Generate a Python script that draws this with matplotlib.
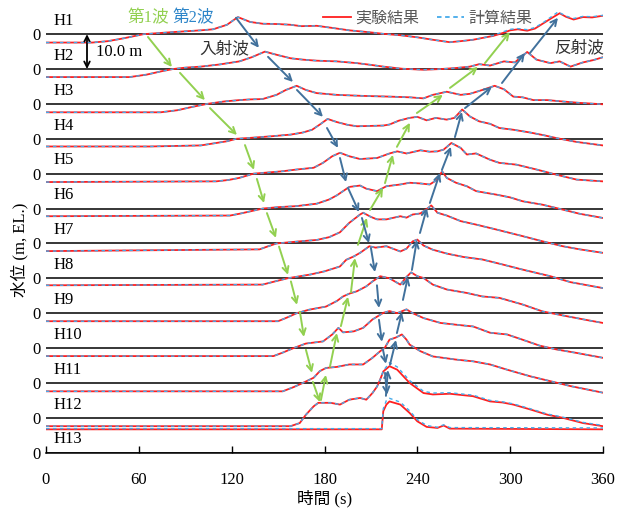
import numpy as np
import matplotlib.pyplot as plt
from matplotlib.lines import Line2D

plt.rcParams['font.family'] = ['Liberation Serif', 'Noto Sans CJK JP']
plt.rcParams['axes.unicode_minus'] = False

# gauge names, top to bottom
gauges = ['H1', 'H2', 'H3', 'H4', 'H5', 'H6', 'H7', 'H8', 'H9', 'H10', 'H11', 'H12', 'H13']
spacing = 10.0   # m between stacked records

H1_t = [0, 30, 40, 50, 63, 82, 100, 108, 117, 124, 132, 140, 150, 158, 165, 175, 185, 196, 208, 218,
        229, 240, 250, 261, 268, 276, 283, 289, 295, 300, 305, 311, 316, 321, 326, 332, 336, 341, 347, 353, 360]
H1_h = [-2.4, -2.4, -2.0, -1.2, 0.0, 0.6, 1.1, 1.4, 2.7, 4.9, 3.5, 3.0, 2.9, 2.7, 2.3, 2.4, 1.8, 1.1, 0.6, 0.1,
        -0.3, -0.9, -1.6, -2.3, -2.0, -1.6, -1.0, -0.5, 0.3, 1.1, 1.4, 1.0, 1.6, 3.0, 4.4, 6.0, 5.0, 4.2, 4.9, 4.8, 5.3]
H2_t = [0, 54, 65, 75, 82, 90, 100, 112, 125, 133, 141.5, 149, 158, 166, 175, 188, 201, 210, 218, 230,
        244, 255, 265, 274, 280, 287, 296, 303, 311, 317, 326, 332, 339, 347, 354, 360]
H2_h = [-2.3, -2.3, -1.6, -0.6, 0.0, 0.4, 0.7, 1.3, 2.2, 3.4, 5.0, 4.1, 3.1, 2.7, 2.4, 2.2, 1.7, 1.2, 0.7, 0.1,
        -0.2, 0.0, 0.3, 0.7, 1.4, 1.0, 2.2, 1.9, 4.9, 2.7, 1.7, 2.2, 0.7, 1.9, 2.6, 3.4]
H3_t = [0, 74, 85, 95, 104, 115, 125, 132, 140, 149, 155, 162, 168, 175, 188, 205, 222, 235, 244, 250,
        259, 268, 274, 282, 290, 296, 302, 308, 315, 324, 334, 345, 360]
H3_h = [-2.4, -2.4, -1.8, -0.8, 0.0, 0.7, 1.1, 1.3, 1.4, 2.6, 4.0, 5.2, 4.0, 3.1, 2.6, 2.3, 2.1, 1.9, 1.6, 2.6,
        3.5, 2.6, 2.9, 4.0, 5.2, 4.2, 2.1, 1.9, 1.1, 1.1, 0.7, 0.3, -0.1]
H4_t = [0, 67, 100, 110, 117, 123, 133, 145, 158, 166, 172, 177, 182, 188, 195, 201, 210, 218, 222, 228,
        235, 240, 246, 252, 259, 264, 269, 274, 280, 287, 293, 302, 313, 322, 330, 343, 360]
H4_h = [-2.2, -2.2, -1.9, -1.2, -0.7, 0.0, 0.3, 0.7, 1.2, 1.8, 2.6, 4.1, 5.7, 4.8, 4.0, 3.6, 3.7, 3.8, 4.1, 5.2,
        6.0, 6.3, 5.3, 6.0, 5.5, 6.0, 8.4, 6.4, 5.0, 4.3, 3.1, 2.6, 1.8, 1.0, 0.2, -0.9, -1.9]
H5_t = [0, 110, 118, 125, 134, 145, 153, 162, 173, 179, 185, 190, 196, 203, 214, 222, 227, 233, 242, 248,
        253, 257, 262, 268, 272, 278, 287, 293, 304, 317, 330, 343, 360]
H5_h = [-2.4, -2.2, -1.8, -1.2, 0.0, 0.4, 0.7, 1.2, 1.7, 3.1, 5.0, 6.0, 5.0, 4.2, 4.5, 5.8, 6.4, 5.8, 6.7, 6.3,
        6.4, 6.9, 8.8, 7.4, 5.5, 5.8, 4.0, 3.1, 2.6, 1.2, -0.3, -1.7, -2.2]
H6_t = [0, 119, 126, 132, 140, 150, 162, 175, 183, 188, 192, 196, 203, 207, 214, 220, 229, 235, 242, 248,
        253, 256, 259, 265, 272, 278, 291, 300, 308, 321, 334, 345, 360]
H6_h = [-2.2, -2.0, -1.4, -0.8, 0.0, 0.4, 0.7, 1.4, 2.6, 3.8, 5.0, 6.2, 6.6, 5.7, 5.0, 6.4, 6.9, 7.4, 7.2, 6.9,
        8.3, 10.7, 8.8, 7.4, 6.4, 5.0, 4.0, 3.2, 2.1, 1.1, -0.3, -1.5, -2.7]
H7_t = [0, 138, 143, 149, 164, 175, 183, 190, 196, 203, 205, 210, 214, 220, 229, 233, 237, 242, 247, 249,
        253, 259, 268, 278, 291, 308, 321, 334, 345, 360]
H7_h = [-2.2, -1.7, -0.9, 0.0, 0.6, 1.0, 1.8, 3.2, 5.9, 8.3, 8.8, 7.6, 6.9, 6.9, 7.8, 7.4, 8.3, 8.6, 10.2, 10.9,
        8.8, 8.0, 6.4, 5.4, 4.0, 2.1, 0.6, -0.8, -1.7, -2.7]
H8_t = [0, 140, 147, 156, 171, 180, 190, 194, 199, 203, 209, 213, 220, 229, 233, 237, 240, 244, 250, 259,
        270, 282, 293, 308, 326, 339, 350, 360]
H8_h = [-2.0, -1.8, -1.0, 0.0, 1.1, 2.0, 3.4, 5.3, 6.3, 7.3, 9.2, 8.8, 9.2, 7.7, 8.5, 10.6, 11.1, 9.4, 8.2, 7.1,
        6.1, 5.4, 4.2, 2.5, 0.6, -1.1, -2.0, -2.8]
H9_t = [0, 150, 156, 162, 170, 181, 188, 192, 196, 201, 207, 211, 216, 222, 229, 233, 236, 240, 244, 250,
        259, 272, 282, 293, 308, 321, 337, 350, 360]
H9_h = [-2.3, -2.3, -1.2, 0.0, 1.0, 1.9, 3.5, 4.8, 5.6, 6.3, 7.7, 9.1, 10.6, 10.0, 8.2, 10.4, 11.7, 10.6, 10.1, 8.2,
        6.8, 5.8, 4.8, 4.4, 2.5, 0.5, -0.9, -2.0, -2.8]
H10_t = [0, 147, 153, 160, 168, 179, 185, 189, 192, 199, 205, 211, 218, 222, 227, 233, 237, 244, 255, 265,
         276, 287, 298, 308, 319, 330, 343, 360]
H10_h = [-2.3, -2.3, -1.3, 0.0, 1.3, 1.9, 3.9, 5.8, 4.5, 4.8, 5.8, 8.2, 10.1, 10.6, 10.0, 11.1, 10.0, 8.6, 7.2, 6.7,
         6.2, 4.4, 3.9, 2.4, 0.7, -0.4, -1.4, -2.8]
H11_t = [0, 153, 160, 166, 173, 177, 181, 188, 196, 205, 211, 216, 219, 222, 226, 230, 233, 235, 242, 250,
         265, 276, 287, 298, 313, 326, 339, 360]
H11_h = [-2.4, -2.4, -1.2, 0.0, 1.5, 3.4, 4.3, 4.6, 5.3, 5.3, 7.2, 9.1, 10.1, 12.4, 13.0, 13.9, 12.4, 11.0, 9.1, 7.6,
         6.7, 6.2, 5.3, 3.8, 1.9, 0.5, -0.9, -2.8]
H12_t = [0, 158, 164, 168, 173, 176, 184, 190, 196, 203, 207, 211, 214, 216, 218, 222, 227, 235, 244, 250,
         261, 276, 287, 295, 302, 313, 324, 334, 347, 360]
H12_h = [-2.4, -2.4, -1.5, 0.9, 3.3, 4.3, 4.3, 3.8, 5.2, 5.7, 5.2, 7.1, 9.0, 11.0, 13.3, 14.8, 13.8, 10.0, 7.1, 6.7,
         6.9, 6.2, 4.7, 4.4, 3.8, 2.4, 0.9, 0.0, -1.5, -2.4]
H13_t = [0, 217, 218, 220, 222, 229, 235, 240, 246, 253, 257, 261, 360]
H13_h = [6.7, 6.7, 11.9, 13.8, 14.7, 13.8, 11.4, 9.0, 7.4, 7.1, 7.8, 6.9, 6.7]

# computed level, where it visibly differs from the measurement
H1_calc_t = [0, 30, 40, 50, 63, 82, 100, 108, 117, 124, 132, 140, 150, 158, 165, 175, 185, 196, 208, 218,
             229, 240, 250, 261, 268, 276, 283, 289, 295, 300, 305, 311, 316, 321, 326, 331, 336, 341, 347, 353, 360]
H1_calc_h = [-2.4, -2.4, -2.0, -1.2, 0.0, 0.6, 1.1, 1.4, 2.7, 4.9, 3.5, 3.0, 2.9, 2.7, 2.3, 2.4, 1.8, 1.1, 0.6, 0.1,
             -0.3, -0.9, -1.6, -2.3, -2.0, -1.6, -1.0, -0.4, 0.6, 1.4, 1.6, 1.3, 1.9, 3.2, 4.8, 6.4, 5.2, 4.5, 5.1, 5.0, 5.4]
H12_calc_t = [0, 158, 164, 168, 173, 176, 184, 190, 196, 203, 207, 211, 214, 216, 218, 222, 227, 235, 244, 250,
              261, 276, 287, 295, 302, 313, 324, 334, 347, 360]
H12_calc_h = [-2.4, -2.4, -1.5, 0.9, 3.3, 4.3, 4.3, 3.8, 5.2, 5.7, 5.2, 7.1, 9.0, 11.0, 13.5, 15.8, 14.6, 10.7, 7.6, 7.1,
              7.2, 6.5, 5.0, 4.6, 4.0, 2.6, 1.1, 0.2, -1.3, -2.2]
H13_calc_t = [0, 217, 218, 220, 222, 229, 235, 240, 246, 253, 257, 261, 360]
H13_calc_h = [6.9, 6.9, 12.6, 15.0, 15.6, 14.5, 12.0, 9.5, 7.8, 7.3, 8.0, 7.2, 7.1]

exp_t = [H1_t, H2_t, H3_t, H4_t, H5_t, H6_t, H7_t, H8_t, H9_t, H10_t, H11_t, H12_t, H13_t]
exp_h = [H1_h, H2_h, H3_h, H4_h, H5_h, H6_h, H7_h, H8_h, H9_h, H10_h, H11_h, H12_h, H13_h]
calc_t = [H1_calc_t] + exp_t[1:11] + [H12_calc_t, H13_calc_t]
calc_h = [H1_calc_h] + exp_h[1:11] + [H12_calc_h, H13_calc_h]

# wave-path arrows (t0, y0, t1, y1) in stacked-axis units
green_down = [(65.9, 119.2, 81.4, 110.6), (86.6, 108.9, 102.7, 101.1), (106.0, 98.8, 123.4, 91.1),
              (128.6, 88.2, 134.4, 81.1), (136.3, 78.5, 140.9, 71.6), (142.8, 68.7, 148.6, 61.6),
              (150.6, 59.1, 156.4, 51.0), (158.3, 49.1, 162.2, 42.4), (164.1, 40.4, 166.7, 33.2),
              (168.0, 29.5, 171.9, 22.9), (172.5, 20.3, 177.1, 14.5)]
green_up = [(177.7, 15.1, 180.9, 22.3), (183.5, 24.6, 188.0, 34.3), (190.6, 36.3, 195.2, 44.7),
            (197.1, 46.0, 199.7, 55.8), (201.6, 59.6, 207.4, 67.3), (209.4, 69.6, 217.8, 75.9),
            (219.1, 77.3, 224.2, 85.4), (226.8, 87.7, 235.2, 94.6), (239.7, 97.4, 256.5, 102.6),
            (261.1, 104.6, 279.2, 110.6), (283.7, 111.7, 299.8, 120.6)]
blue_down = [(122.8, 124.7, 137.6, 116.1), (143.5, 113.5, 159.6, 106.3), (162.2, 104.0, 179.0, 96.3),
             (181.6, 93.1, 188.7, 87.4), (190.0, 84.5, 193.9, 77.6), (195.2, 75.9, 202.3, 69.0),
             (204.2, 67.3, 208.7, 60.1), (210.0, 58.7, 212.6, 51.8), (213.9, 48.0, 215.2, 41.5),
             (215.2, 38.1, 217.1, 31.8), (217.8, 29.5, 219.7, 25.5), (219.1, 22.9, 220.4, 16.6)]
blue_up = [(219.7, 16.3, 221.0, 23.7), (222.3, 25.2, 226.2, 32.3), (226.8, 34.3, 230.0, 40.3),
           (230.7, 43.8, 233.9, 50.4), (236.5, 52.4, 239.7, 61.0), (241.7, 63.0, 246.2, 70.2),
           (248.1, 71.6, 254.6, 80.2), (255.9, 81.1, 261.7, 87.7), (264.3, 90.5, 268.8, 97.7),
           (270.8, 98.8, 288.2, 104.9), (294.7, 106.0, 309.5, 114.6), (312.8, 114.6, 330.9, 124.7)]

red = '#FF1F1F'
blue = '#45AAEA'
green = '#92D050'
steel = '#41719C'

fig = plt.figure(figsize=(6.29, 5.09), dpi=100)
ax = fig.add_axes([46 / 629, 1 - 452.7 / 509, 557 / 629, 452.7 / 509])

n = len(gauges)
offsets = [spacing * (n - 1 - i) for i in range(n)]

for off in offsets:
    ax.axhline(off, color='black', lw=1.1, zorder=1)

for i in range(n):
    off = offsets[i]
    ax.plot(exp_t[i], np.array(exp_h[i]) + off, color=red, lw=1.3, zorder=3)
    ax.plot(calc_t[i], np.array(calc_h[i]) + off, color=blue, lw=1.0, ls=(0, (2.5, 2.5)), zorder=4)
    ax.text(5, off + 3.8, gauges[i], fontsize=12, va='center', ha='left')

for seg_list, col in [(green_down, green), (green_up, green), (blue_down, steel), (blue_up, steel)]:
    for t0, y0, t1, y1 in seg_list:
        ax.annotate('', xy=(t1, y1), xytext=(t0, y0),
                    arrowprops=dict(arrowstyle='->', color=col, lw=1.4, shrinkA=0, shrinkB=0,
                                    mutation_scale=11), zorder=5)

ax.text(66, 124.6, '第1波', color=green, fontsize=12, ha='center', va='center')
ax.text(95, 124.6, '第2波', color='#2E86C9', fontsize=12, ha='center', va='center')
ax.text(115, 115.7, '入射波', color='#333333', fontsize=12, ha='center', va='center')
ax.text(344.4, 116.0, '反射波', color='#333333', fontsize=12, ha='center', va='center')
ax.annotate('', xy=(26.5, 120), xytext=(26.5, 110),
            arrowprops=dict(arrowstyle='<->', color='black', lw=1.3, shrinkA=0, shrinkB=0))
ax.text(32, 114.8, '10.0 m', fontsize=12, ha='left', va='center')

handles = [Line2D([], [], color=red, lw=1.3),
           Line2D([], [], color=blue, lw=1.3, ls=(0, (2.5, 2)))]
leg = ax.legend(handles, ['実験結果', '計算結果'], loc='center', bbox_to_anchor=(0.686, 0.96),
                ncol=2, frameon=False, handlelength=1.7, handletextpad=0.3, columnspacing=1.1,
                prop={'family': 'Noto Sans CJK JP', 'size': 11.5})
for txt in leg.get_texts():
    txt.set_color('#595959')

ax.set_xlim(0, 360)
ax.set_ylim(0, 129.8)
ax.set_xticks(range(0, 361, 60))
ax.set_yticks(offsets)
ax.set_yticklabels(['0'] * n)
ax.tick_params(axis='y', length=0, pad=4, labelsize=12)
ax.tick_params(axis='x', direction='in', length=5, width=1, pad=14, labelsize=12)
for s in ['left', 'right', 'top']:
    ax.spines[s].set_visible(False)
ax.spines['bottom'].set_linewidth(1.1)
ax.set_xlabel('時間 (s)', fontsize=12, labelpad=1)
fig.text(20 / 629, 1 - 250 / 509, '水位 (m, EL.)', rotation=90, fontsize=12, ha='center', va='center')

fig.savefig('out.png', dpi=100)
